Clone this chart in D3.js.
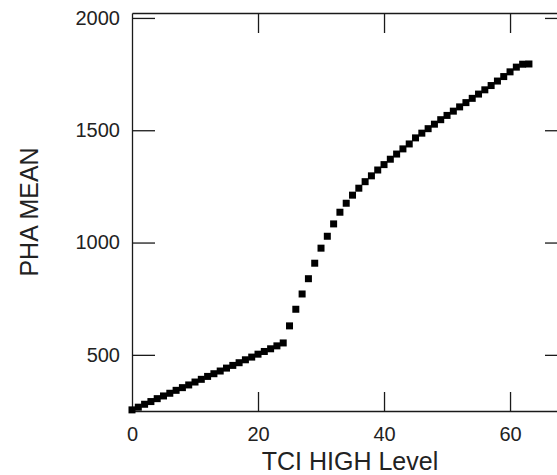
<!DOCTYPE html>
<html>
<head>
<meta charset="utf-8">
<script src="https://cdn.jsdelivr.net/npm/d3@7"></script>
<style>
  html, body { margin: 0; padding: 0; background: #fff; }
  svg { display: block; }
  .axis text { font-family: "Liberation Sans", Arial, sans-serif; font-size: 20px; fill: #222; }
  .axis path, .axis line { stroke: #1a1a1a; stroke-width: 1.3; }
  .title { font-family: "Liberation Sans", Arial, sans-serif; font-size: 25px; fill: #222; }
</style>
</head>
<body>
<script>
// TCI HIGH level vs. mean pulse height
const tciLevel = [0, 1, 2, 3, 4, 5, 6, 7, 8, 9, 10, 11, 12, 13, 14, 15, 16, 17, 18, 19,
  20, 21, 22, 23, 24, 25, 26, 27, 28, 29, 30, 31, 32, 33, 34, 35, 36, 37, 38, 39,
  40, 41, 42, 43, 44, 45, 46, 47, 48, 49, 50, 51, 52, 53, 54, 55, 56, 57, 58, 59,
  60, 61, 62, 63];
const phaMean = [255, 267, 280, 292, 305, 317, 329, 342, 354, 366, 379, 391, 404, 416, 428, 441, 453, 465, 478, 490,
  503, 515, 527, 540, 553, 629, 703, 771, 839, 908, 975, 1028, 1083, 1135, 1175, 1211, 1242, 1271, 1297, 1323,
  1347, 1371, 1394, 1417, 1439, 1466, 1487, 1507, 1527, 1547, 1566, 1585, 1604, 1623, 1642, 1661, 1680, 1699, 1719, 1739,
  1760, 1781, 1794, 1795];
const xTicks = [0, 20, 40, 60];
const yTicks = [500, 1000, 1500, 2000];

const W = 557, H = 475;
const plotLeft = 132, plotRight = 568, plotTop = 13, plotBottom = 411;

const svg = d3.select("body").append("svg").attr("width", W).attr("height", H);

const x = d3.scaleLinear().domain([0, 69.2]).range([plotLeft, plotRight]);
const y = d3.scaleLinear().domain([250, 2022]).range([plotBottom, plotTop]);

// frame with inward ticks on all four sides
svg.append("g").attr("class", "axis").attr("transform", `translate(0,${plotBottom})`)
  .call(d3.axisBottom(x).tickValues(xTicks).tickSizeInner(-19).tickSizeOuter(0).tickPadding(16).tickFormat(d3.format("d")));
svg.append("g").attr("class", "axis").attr("transform", `translate(0,${plotTop})`)
  .call(d3.axisTop(x).tickValues(xTicks.filter(d => d > 0)).tickSizeInner(-20).tickSizeOuter(0).tickFormat(""));
svg.append("g").attr("class", "axis").attr("transform", `translate(${plotLeft},0)`)
  .call(d3.axisLeft(y).tickValues(yTicks).tickSizeInner(-23).tickSizeOuter(0).tickPadding(12).tickFormat(d3.format("d")));
svg.append("g").attr("class", "axis").attr("transform", `translate(${plotRight},0)`)
  .call(d3.axisRight(y).tickValues(yTicks).tickSizeInner(-23).tickSizeOuter(0).tickFormat(""));

svg.selectAll(".axis .tick line").filter(d => d === 0).remove();

// square markers
const s = 7;
svg.append("g").selectAll("rect")
  .data(tciLevel.map((v, i) => [v, phaMean[i]]))
  .join("rect")
  .attr("x", d => x(d[0]) - s / 2)
  .attr("y", d => y(d[1]) - s / 2)
  .attr("width", s).attr("height", s)
  .attr("fill", "#000");

// axis titles
svg.append("text").attr("class", "title")
  .attr("x", (plotLeft + plotRight) / 2).attr("y", 470)
  .attr("text-anchor", "middle").text("TCI HIGH Level");
svg.append("text").attr("class", "title")
  .attr("transform", `translate(38,${(plotTop + plotBottom) / 2}) rotate(-90)`)
  .attr("text-anchor", "middle").text("PHA MEAN");
</script>
</body>
</html>
